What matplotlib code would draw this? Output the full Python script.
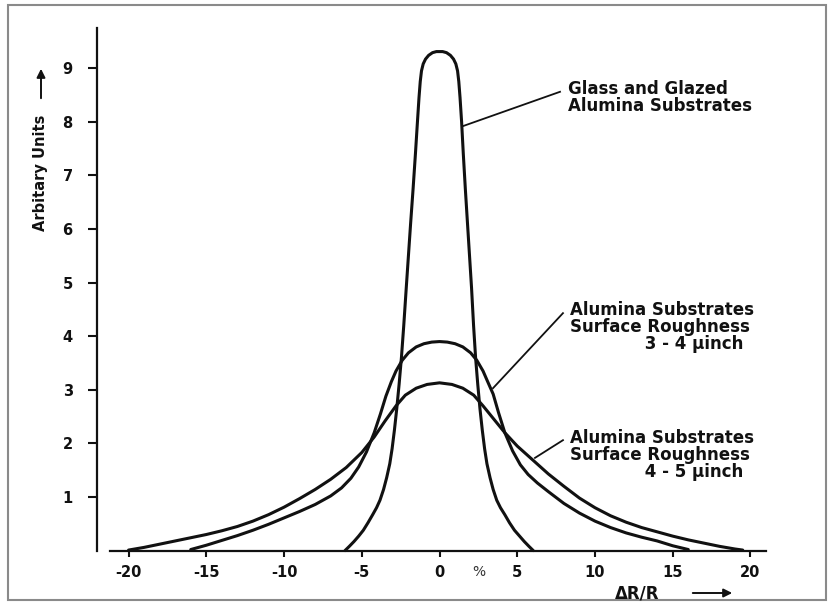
import matplotlib
matplotlib.use("Agg")
import matplotlib.pyplot as plt
from matplotlib.patches import Rectangle, FancyArrowPatch

plt.rcParams['font.family'] = ['DejaVu Sans']
plt.rcParams['font.weight'] = 'bold'
plt.rcParams['axes.unicode_minus'] = False

# ---- data ----
glass_x = [-6.08, -5.8, -5.5, -5.2, -4.9, -4.6, -4.3, -4.05, -3.83, -3.6, -3.4, -3.2,
           -3.05, -2.9, -2.75, -2.6, -2.45, -2.3, -2.14, -2.0, -1.86, -1.7, -1.55,
           -1.42, -1.32, -1.24, -1.16, -1.05, -0.9, -0.7, -0.45, -0.2, 0.0,
           0.2, 0.45, 0.7, 0.9, 1.05, 1.16, 1.24, 1.32, 1.42, 1.53, 1.66, 1.8, 1.93,
           2.06, 2.19, 2.32, 2.46, 2.6, 2.75, 2.9, 3.05, 3.25, 3.45, 3.68, 3.92, 4.2,
           4.5, 4.82, 5.15, 5.45, 5.75, 6.03]
glass_y = [0.0, 0.08, 0.17, 0.27, 0.38, 0.52, 0.67, 0.8, 0.94, 1.14, 1.36, 1.62,
           1.9, 2.25, 2.65, 3.1, 3.6, 4.2, 4.9, 5.5, 6.1, 6.75, 7.4,
           8.0, 8.45, 8.75, 8.95, 9.08, 9.17, 9.24, 9.29, 9.31, 9.31,
           9.31, 9.29, 9.24, 9.17, 9.08, 8.95, 8.75, 8.45, 8.0, 7.4, 6.75, 6.1, 5.5,
           4.9, 4.2, 3.6, 3.1, 2.65, 2.25, 1.9, 1.62, 1.36, 1.14, 0.94, 0.8, 0.67,
           0.52, 0.38, 0.27, 0.17, 0.08, 0.0]

rough34_x = [-16.0, -15.0, -14.0, -13.0, -12.0, -11.0, -10.0, -9.0, -8.0, -7.0, -6.3,
             -5.7, -5.2, -4.7, -4.2, -3.8, -3.45, -3.1, -2.8, -2.4, -2.0, -1.5, -1.0,
             -0.5, 0.0, 0.5, 1.0, 1.5, 2.0, 2.4, 2.8, 3.1, 3.45, 3.8, 4.2, 4.7, 5.2,
             5.7, 6.3, 7.0, 8.0, 9.0, 10.0, 11.0, 12.0, 13.0, 14.0, 15.0, 16.0]
rough34_y = [0.02, 0.1, 0.19, 0.28, 0.38, 0.49, 0.61, 0.73, 0.86, 1.02, 1.17,
             1.35, 1.56, 1.84, 2.2, 2.55, 2.88, 3.15, 3.35, 3.55, 3.69, 3.8, 3.86,
             3.89, 3.9, 3.89, 3.86, 3.8, 3.69, 3.55, 3.35, 3.15, 2.92, 2.57, 2.2, 1.86,
             1.6, 1.42, 1.26, 1.1, 0.88, 0.7, 0.55, 0.43, 0.33, 0.25, 0.18, 0.09, 0.02]

rough45_x = [-20.0, -19.0, -18.0, -17.0, -16.0, -15.0, -14.0, -13.0, -12.0, -11.0, -10.0,
             -9.0, -8.0, -7.0, -6.0, -5.0, -4.2, -3.5, -2.8, -2.2, -1.5, -0.8, 0.0,
             0.8, 1.5, 2.2, 2.8, 3.5, 4.2, 5.0, 6.0, 7.0, 8.0, 9.0, 10.0, 11.0, 12.0,
             13.0, 14.0, 15.0, 16.0, 17.0, 18.0, 19.0, 19.5]
rough45_y = [0.01, 0.06, 0.12, 0.18, 0.24, 0.3, 0.37, 0.45, 0.55, 0.67, 0.81,
             0.97, 1.14, 1.33, 1.55, 1.83, 2.12, 2.42, 2.7, 2.9, 3.03, 3.1, 3.13,
             3.1, 3.03, 2.9, 2.7, 2.45, 2.2, 1.95, 1.69, 1.43, 1.2, 0.98, 0.8, 0.65, 0.53,
             0.43, 0.35, 0.27, 0.2, 0.14, 0.08, 0.03, 0.01]

x_ticks = [-20, -15, -10, -5, 0, 5, 10, 15, 20]
y_ticks = [1, 2, 3, 4, 5, 6, 7, 8, 9]

indent = " " * 13
label_glass = "Glass and Glazed\nAlumina Substrates"
label_34 = "Alumina Substrates\nSurface Roughness\n" + indent + "3 - 4 µinch"
label_45 = "Alumina Substrates\nSurface Roughness\n" + indent + "4 - 5 µinch"

# ---- figure ----
W, H = 832, 605
fig = plt.figure(figsize=(W / 100, H / 100), dpi=100)
fig.patch.set_facecolor('white')
ax = fig.add_axes([97 / W, 1 - 550.6 / H, 676.8 / W, 522.6 / H])
ax.set_xlim(-22.03, 21.5)
ax.set_ylim(0, 9.75)

ink = '#111111'
lw = 2.2
for xs, ys in ((glass_x, glass_y), (rough34_x, rough34_y), (rough45_x, rough45_y)):
    ax.plot(xs, ys, color=ink, lw=lw, solid_capstyle='round',
            solid_joinstyle='round', clip_on=False)

for s in ('top', 'right'):
    ax.spines[s].set_visible(False)
for s in ('left', 'bottom'):
    ax.spines[s].set_linewidth(1.6)
    ax.spines[s].set_color(ink)
ax.spines['bottom'].set_bounds(-21.2, 21.0)

ax.set_xticks(x_ticks)
ax.set_xticklabels([str(v) for v in x_ticks])
ax.set_yticks(y_ticks)
ax.set_yticklabels([str(v) for v in y_ticks])
ax.tick_params(axis='x', direction='out', length=4.5, width=1.5, pad=6,
               labelsize=10.5, colors=ink)
ax.tick_params(axis='y', direction='out', length=6.5, width=1.5, pad=11,
               labelsize=10.5, colors=ink)

# leader lines (data coords)
ax.plot([1.51, 7.75], [7.92, 8.56], color=ink, lw=1.3)
ax.plot([3.44, 7.94], [3.03, 4.43], color=ink, lw=1.3)
ax.plot([6.14, 7.94], [1.73, 2.06], color=ink, lw=1.3)

def px_to_data(px, py):
    return (px - 439.5) / 15.55, (550.6 - py) / 53.6

fs = 12
def put(text, px, py_top):
    x, y = px_to_data(px, py_top)
    ax.text(x, y, text, ha='left', va='top', fontsize=fs, color=ink,
            linespacing=0.92, multialignment='left', clip_on=False)

put(label_glass, 568, 80)
put(label_34, 570, 301)
put(label_45, 570, 429)

# axis labels
fig.text(41 / W, 1 - 172.5 / H, "Arbitary Units", rotation=90, ha='center', va='center',
         fontsize=10.5, color=ink)
fig.text(637 / W, 1 - 593 / H, "ΔR/R", ha='center', va='center', fontsize=12, color=ink)
fig.text(479 / W, 1 - 572 / H, "%", ha='center', va='center', fontsize=10,
         fontweight='normal', color='#333333')

fig.add_artist(FancyArrowPatch(
    (41 / W, 1 - 101 / H), (41 / W, 1 - 66 / H), transform=fig.transFigure,
    arrowstyle='-|>,head_length=5,head_width=2.5', color=ink, lw=1.4))
fig.add_artist(FancyArrowPatch(
    (690 / W, 1 - 593 / H), (735 / W, 1 - 593 / H), transform=fig.transFigure,
    arrowstyle='-|>,head_length=5,head_width=2.5', color=ink, lw=1.4))

# image border
fig.add_artist(Rectangle((8 / W, 5 / H), 818 / W, 595 / H, transform=fig.transFigure,
                         fill=False, edgecolor='#8a8a8a', lw=1.5))

fig.savefig("out.png", dpi=100)
